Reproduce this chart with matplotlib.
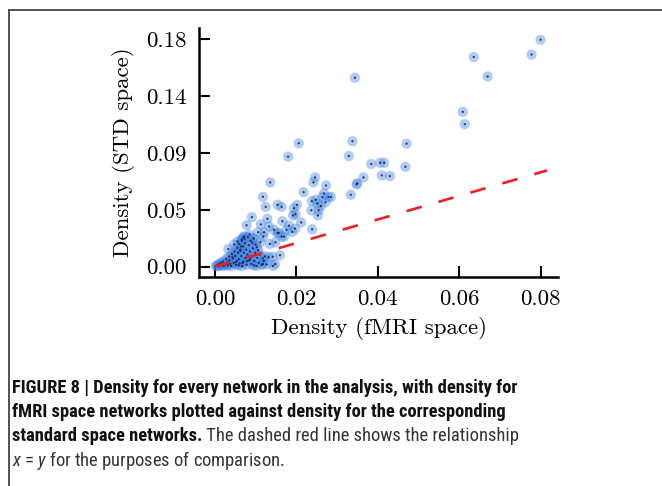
import matplotlib
matplotlib.use("Agg")
import matplotlib.pyplot as plt
from matplotlib import font_manager as fm
from matplotlib.lines import Line2D

# Network densities: fMRI space (x) vs standard space (y)
fmri_density = [
    0.0800, 0.0778, 0.0636, 0.0670, 0.0344, 0.0609, 0.0614, 0.0206, 0.0338, 0.0471,
    0.0180, 0.0329, 0.0384, 0.0406, 0.0416, 0.0468, 0.0410, 0.0430, 0.0365, 0.0350,
    0.0348, 0.0246, 0.0242, 0.0273, 0.0136, 0.0218, 0.0334, 0.0264, 0.0279, 0.0285,
    0.0118, 0.0238, 0.0252, 0.0272, 0.0125, 0.0154, 0.0164, 0.0194, 0.0202, 0.0237,
    0.0255, 0.0253, 0.0192, 0.0198, 0.0091, 0.0129, 0.0166, 0.0212, 0.0078, 0.0133,
    0.0145, 0.0239, 0.0197, 0.0190, 0.0106, 0.0121, 0.0119, 0.0154, 0.0164, 0.0170,
    0.0095, 0.0070, 0.0066, 0.0135, 0.0149, 0.0123, 0.0142, 0.0160, 0.0132, 0.0118,
    0.0127, 0.0148, 0.0143, 0.0182, 0.0176, 0.0157, 0.0113, 0.0260, 0.0248, 0.0268,
    0.0002, 0.0005, 0.0008, 0.0010, 0.0012, 0.0015, 0.0018, 0.0020, 0.0022, 0.0025,
    0.0028, 0.0030, 0.0032, 0.0035, 0.0036, 0.0038, 0.0040, 0.0042, 0.0044, 0.0046,
    0.0048, 0.0050, 0.0052, 0.0054, 0.0055, 0.0057, 0.0059, 0.0060, 0.0061, 0.0063,
    0.0065, 0.0066, 0.0067, 0.0069, 0.0070, 0.0071, 0.0073, 0.0074, 0.0075, 0.0077,
    0.0078, 0.0080, 0.0081, 0.0083, 0.0084, 0.0086, 0.0088, 0.0090, 0.0091, 0.0093,
    0.0095, 0.0097, 0.0099, 0.0100, 0.0102, 0.0104, 0.0106, 0.0108, 0.0110, 0.0112,
    0.0115, 0.0118, 0.0120, 0.0056, 0.0064, 0.0072, 0.0085, 0.0092, 0.0047, 0.0033,
    0.0058, 0.0068, 0.0079, 0.0087, 0.0096, 0.0103, 0.0043, 0.0051, 0.0026, 0.0062,
]
std_density = [
    0.1797, 0.1680, 0.1660, 0.1506, 0.1496, 0.1226, 0.1128, 0.0977, 0.0993, 0.0974,
    0.0871, 0.0876, 0.0813, 0.0823, 0.0823, 0.0791, 0.0723, 0.0717, 0.0707, 0.0660,
    0.0652, 0.0707, 0.0667, 0.0643, 0.0667, 0.0590, 0.0569, 0.0550, 0.0552, 0.0552,
    0.0553, 0.0519, 0.0500, 0.0510, 0.0474, 0.0490, 0.0474, 0.0463, 0.0490, 0.0447,
    0.0447, 0.0405, 0.0405, 0.0415, 0.0392, 0.0379, 0.0360, 0.0350, 0.0328, 0.0318,
    0.0292, 0.0296, 0.0302, 0.0275, 0.0273, 0.0273, 0.0238, 0.0265, 0.0238, 0.0238,
    0.0222, 0.0233, 0.0217, 0.0180, 0.0193, 0.0082, 0.0079, 0.0090, 0.0075, 0.0021,
    0.0018, 0.0021, 0.0006, 0.0325, 0.0290, 0.0268, 0.0335, 0.0480, 0.0530, 0.0580,
    0.0005, 0.0010, 0.0003, 0.0020, 0.0008, 0.0030, 0.0012, 0.0040, 0.0005, 0.0020,
    0.0060, 0.0035, 0.0010, 0.0080, 0.0050, 0.0022, 0.0005, 0.0100, 0.0065, 0.0030,
    0.0120, 0.0085, 0.0015, 0.0045, 0.0150, 0.0110, 0.0060, 0.0180, 0.0025, 0.0135,
    0.0085, 0.0205, 0.0005, 0.0160, 0.0040, 0.0110, 0.0220, 0.0185, 0.0070, 0.0135,
    0.0015, 0.0095, 0.0235, 0.0170, 0.0050, 0.0120, 0.0205, 0.0020, 0.0080, 0.0145,
    0.0225, 0.0045, 0.0110, 0.0175, 0.0005, 0.0070, 0.0130, 0.0030, 0.0095, 0.0195,
    0.0015, 0.0065, 0.0045, 0.0200, 0.0160, 0.0240, 0.0255, 0.0190, 0.0175, 0.0140,
    0.0010, 0.0030, 0.0045, 0.0060, 0.0010, 0.0155, 0.0075, 0.0035, 0.0018, 0.0125,
]

x_ticks = [0.0, 0.02, 0.04, 0.06, 0.08]
x_tick_labels = ["0.00", "0.02", "0.04", "0.06", "0.08"]
y_ticks = [0.0, 0.045, 0.09, 0.135, 0.18]
y_tick_labels = ["0.00", "0.05", "0.09", "0.14", "0.18"]

# Reference line endpoints
ref_line_x = [0.0, 0.0816]
ref_line_y = [0.0, 0.0762]

x_label = "Density (fMRI space)"
y_label = "Density (STD space)"

caption_lines = [
    "FIGURE 8 | Density for every network in the analysis, with density for",
    "fMRI space networks plotted against density for the corresponding",
    "standard space networks.",
]
caption_rest = " The dashed red line shows the relationship"
caption_last = r"$x$ = $y$ for the purposes of comparison."


def pick_caption_font():
    """Prefer a narrow sans family if one is installed."""
    for fam in ["Liberation Sans Narrow", "Roboto Condensed", "Open Sans Condensed",
                "Noto Sans Condensed", "Arial Narrow"]:
        try:
            fm.findfont(fm.FontProperties(family=fam), fallback_to_default=False)
            return fam, "normal"
        except ValueError:
            pass
    for fam in ["Noto Sans", "Open Sans", "Roboto"]:
        try:
            path = fm.findfont(fm.FontProperties(family=fam, stretch="condensed"),
                               fallback_to_default=False)
        except ValueError:
            continue
        if "ondensed" in path or "arrow" in path:
            return fam, "condensed"
    return "Liberation Sans", "normal"


cap_family, cap_stretch = pick_caption_font()
plt.rcParams["mathtext.fontset"] = "custom"
plt.rcParams["mathtext.it"] = cap_family + ":italic"
plt.rcParams["mathtext.rm"] = cap_family

fig = plt.figure(figsize=(6.62, 4.86), dpi=100)
ax = fig.add_axes([0.3006, 0.430, 0.5424, 0.5124])

ax.scatter(fmri_density, std_density, s=55, color="#3f7fe0", alpha=0.40,
           edgecolors="none", zorder=2)
ax.scatter(fmri_density, std_density, s=2.5, color="#14224a", alpha=0.9,
           edgecolors="none", zorder=3)
ax.plot(ref_line_x, ref_line_y, color="#e8202a", lw=1.9,
        dashes=(6.0, 6.6), zorder=4)

ax.set_xlim(-0.0039, 0.0843)
ax.set_ylim(-0.0082, 0.189)
ax.set_xticks(x_ticks)
ax.set_xticklabels(x_tick_labels)
ax.set_yticks(y_ticks)
ax.set_yticklabels(y_tick_labels)

for side in ("top", "right"):
    ax.spines[side].set_visible(False)
for side in ("left", "bottom"):
    ax.spines[side].set_linewidth(1.8)
ax.tick_params(direction="in", length=8, width=1.5, pad=9,
               labelsize=16.5, colors="black")
for lab in ax.get_xticklabels() + ax.get_yticklabels():
    lab.set_fontfamily("cmr10")

ax.set_xlabel(x_label, fontfamily="cmr10", fontsize=16.5, labelpad=6)
ax.set_ylabel(y_label, fontfamily="cmr10", fontsize=16.5, labelpad=8)

# Page frame lines
fig.add_artist(Line2D([9 / 662, 1.0], [1 - 10 / 486, 1 - 10 / 486],
                      transform=fig.transFigure, color="#444444", lw=1.3))
fig.add_artist(Line2D([9 / 662, 9 / 662], [0.0, 1 - 10 / 486],
                      transform=fig.transFigure, color="#444444", lw=1.3))

# Caption: size chosen so the first line spans the text column
x0 = 12 / 662
line_px = [388, 412, 436, 460]
probe = fig.text(0, 0, caption_lines[0], family=cap_family, fontstretch=cap_stretch,
                 fontsize=13.0, fontweight="bold")
fig.canvas.draw()
cap_size = 13.0 * 506.0 / probe.get_window_extent().width
probe.remove()

common = dict(family=cap_family, fontstretch=cap_stretch, fontsize=cap_size,
              va="center", ha="left")
fig.text(x0, 1 - line_px[0] / 486, caption_lines[0], fontweight="bold",
         color="#111111", **common)
fig.text(x0, 1 - line_px[1] / 486, caption_lines[1], fontweight="bold",
         color="#111111", **common)
bold_part = fig.text(x0, 1 - line_px[2] / 486, caption_lines[2], fontweight="bold",
                     color="#111111", **common)
fig.canvas.draw()
bb = bold_part.get_window_extent()
fig.text(bb.x1 / fig.bbox.width, 1 - line_px[2] / 486, caption_rest,
         color="#333333", **common)
fig.text(x0, 1 - line_px[3] / 486, caption_last, color="#333333", **common)

fig.savefig("out.png", dpi=100)
